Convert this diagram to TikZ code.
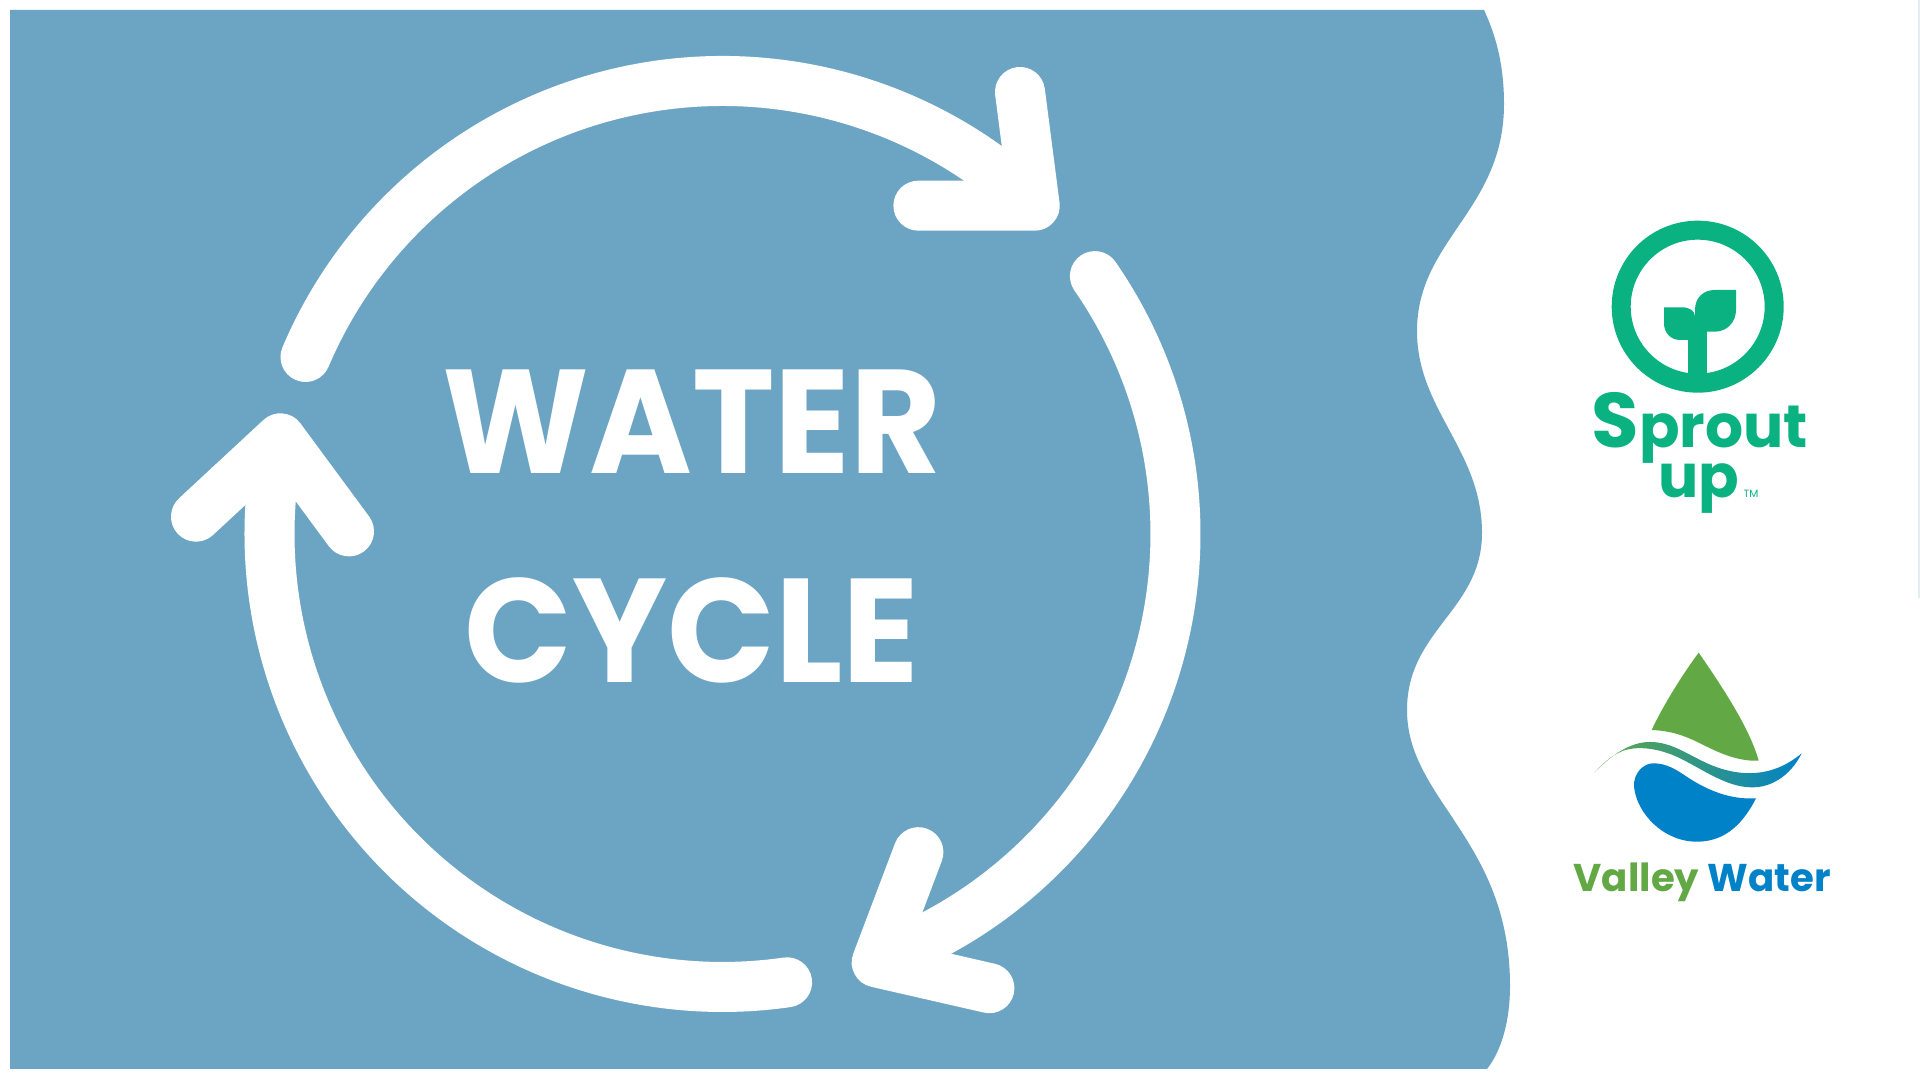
\documentclass[tikz,border=0pt]{standalone}
\usepackage{fontspec}
\setmainfont{Poppins}
\definecolor{panelblue}{HTML}{6CA5C4}
\definecolor{sproutgreen}{HTML}{09B280}
\definecolor{valleygreen}{HTML}{62A945}
\definecolor{valleyblue}{HTML}{0082C8}
\definecolor{swooshteal}{HTML}{4A9BA3}
\definecolor{edgegrey}{HTML}{E3ECF1}
\tikzset{
    cyclearrow/.style={line width=0.5cm,white,line cap=round,line join=round},
    cycletitle/.style={white,anchor=base,inner sep=0pt,transform shape,font=\fontsize{42}{42}\selectfont\bfseries},
    sprouttext/.style={sproutgreen,anchor=base,inner sep=0pt,font=\fontsize{17}{17}\selectfont\bfseries},
    valleytext/.style={anchor=base west,inner sep=0pt,font=\fontsize{11}{11}\selectfont\bfseries},
}
\begin{document}
\begin{tikzpicture}[x=0.01cm,y=0.01cm]
    \useasboundingbox (0,0) rectangle (1920,1080);
    \fill[white] (0,0) rectangle (1920,1080);
    \draw[edgegrey,line width=0.03cm] (1919,1080) -- (1919,482);
    % wavy panel
    \fill[panelblue] (10,1070) -- (1484,1070)
        .. controls (1498,1040) and (1504,1010) .. (1504,976)
        .. controls (1504,870) and (1417,840) .. (1417,749)
        .. controls (1417,670) and (1482,630) .. (1482,547)
        .. controls (1482,470) and (1407,450) .. (1407,370)
        .. controls (1407,280) and (1510,240) .. (1510,94)
        .. controls (1510,60) and (1502,30) .. (1487,11)
        -- (10,11) -- cycle;
    \coordinate (hub) at (722.5,546);
    % the three arrows of the cycle
    \coordinate (tipa) at (1034.7,874.3);
    \coordinate (tipb) at (876.7,117.6);
    \coordinate (tipc) at (280.4,641.6);
    \coordinate (barba) at (1020,988);
    \coordinate (barbb) at (918.4,874.3);
    \coordinate (barbc) at (918.4,227.8);
    \coordinate (barbd) at (989.4,91.8);
    \coordinate (barbe) at (196,563.3);
    \coordinate (barbf) at (349,548.6);
    \draw[cyclearrow] (hub) ++(157:453) arc[start angle=157,end angle=47.5,radius=453];
    \draw[cyclearrow] (barba) -- (tipa) -- (barbb);
    \draw[cyclearrow] (hub) ++(34.7:453) arc[start angle=34.7,end angle=-68,radius=453];
    \draw[cyclearrow] (barbc) -- (tipb) -- (barbd);
    \draw[cyclearrow] (hub) ++(-81.8:453) arc[start angle=-81.8,end angle=-190,radius=453];
    \draw[cyclearrow] (barbe) -- (tipc) -- (barbf);
    \node[cycletitle,xscale=0.945] (water) at (692,606) {WATER};
    \node[cycletitle,xscale=0.958] (cycle) at (692,397) {CYCLE};
    % sprout up logo
    \begin{scope}
        \coordinate (ring) at (1697.7,773.3);
        \draw[sproutgreen,line width=0.19cm] (ring) circle (76.5);
        \fill[sproutgreen] (1664,772.7) -- (1681.7,772.7)
            .. controls (1690,772.7) and (1695,769) .. (1695,763.3)
            -- (1695,740) -- (1680,740)
            .. controls (1670,740) and (1664,748) .. (1664,756.7) -- cycle;
        \fill[sproutgreen] (1736,790) -- (1715,790)
            .. controls (1703,790) and (1695,782) .. (1695,770)
            -- (1695,748.3) -- (1715,748.3)
            .. controls (1727,748.3) and (1736,758) .. (1736,770) -- cycle;
        \fill[sproutgreen] (1688.3,750) rectangle (1707.3,703);
        \node[sprouttext] (sprout) at (1700,632) {{\fontsize{22}{22}\selectfont S}prout};
        \node[sprouttext] (up) at (1699,582) {up};
        \node[sproutgreen,inner sep=0pt,font=\fontsize{3}{3}\selectfont] (tm) at (1751,586) {TM};
    \end{scope}
    % valley water logo
    \begin{scope}
        \fill[valleygreen] (1698.7,427.3)
            .. controls (1726.7,386.7) and (1750,350) .. (1758.7,319.3)
            .. controls (1736.7,318.3) and (1716.7,328.3) .. (1700,336.7)
            .. controls (1680,346.7) and (1666.7,349.3) .. (1651.7,350)
            .. controls (1663.3,375) and (1683.3,406.7) .. cycle;
        \fill[valleyblue] (1756,281.7)
            .. controls (1740,250) and (1720,238.3) .. (1696.7,238.3)
            .. controls (1663.3,238.3) and (1636.7,266.7) .. (1634,293.3)
            .. controls (1633.3,306.7) and (1643.3,316.7) .. (1653.3,316.7)
            .. controls (1666.7,316.7) and (1676.7,310) .. (1686.7,303.3)
            .. controls (1706.7,290) and (1730,280) .. cycle;
        \shade[left color=valleygreen,middle color=swooshteal,right color=valleyblue] (1594,307.3)
            .. controls (1611.7,325) and (1630,338) .. (1650,338)
            .. controls (1673.3,338) and (1690,323.3) .. (1713.3,314)
            .. controls (1736.7,305) and (1770,300) .. (1801.7,326.7)
            .. controls (1790,303.3) and (1770,291.7) .. (1750,292.7)
            .. controls (1726.7,293.3) and (1703.3,310) .. (1683.3,320)
            .. controls (1663.3,330.7) and (1640,335) .. (1623.3,329.3)
            .. controls (1610,324) and (1601.7,315) .. cycle;
        \node[valleytext,valleygreen] (valley) at (1573,188) {Valley};
        \node[valleytext,valleyblue] (watermark) at (1707,188) {Water};
    \end{scope}
\end{tikzpicture}
\end{document}
